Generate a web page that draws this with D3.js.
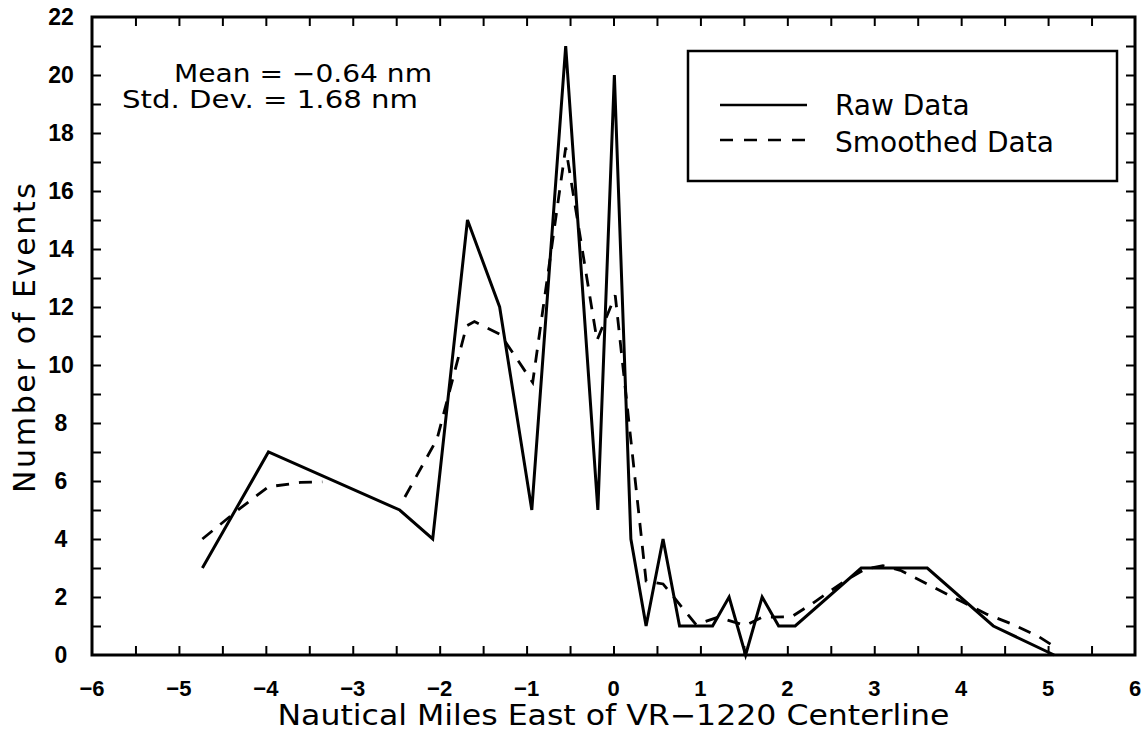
<!DOCTYPE html>
<html>
<head>
<meta charset="utf-8">
<script src="https://cdn.jsdelivr.net/npm/d3@7"></script>
<style>
  html, body { margin: 0; padding: 0; background: #fff; }
  svg { display: block; }
</style>
</head>
<body>
<svg id="chart" width="1147" height="732"></svg>
<script>
// ---- data ----
const rawX = [-4.73, -3.97, -2.46, -2.08, -1.68, -1.31, -0.94, -0.55, -0.18, 0.01, 0.2, 0.375, 0.57, 0.76, 1.14, 1.33, 1.52, 1.71, 1.9, 2.09, 2.85, 3.61, 4.37, 5.07];
const rawY = [3, 7, 5, 4, 15, 12, 5, 21, 5, 20, 4, 1, 4, 1, 1, 2, 0, 2, 1, 1, 3, 3, 1, 0];

// null marks a gap in the smoothed curve
const smoothX = [-4.73, -4.3, -3.97, -3.6, -3.35, null, -2.4, -2.03, -1.69, -1.6, -1.3, -0.93, -0.55, -0.19, 0.02, 0.375, 0.57, 0.95, 1.2, 1.52, 1.71, 2.05, 2.3, 2.66, 2.9, 3.1, 3.3, 3.61, 4.0, 4.3, 4.6, 4.9, 5.12];
const smoothY = [4.0, 5.05, 5.8, 5.95, 5.97, null, 5.45, 7.45, 11.35, 11.5, 11.05, 9.4, 17.5, 10.85, 12.4, 2.55, 2.45, 1.05, 1.3, 1.02, 1.3, 1.32, 1.8, 2.55, 2.97, 3.08, 2.92, 2.45, 1.85, 1.4, 1.05, 0.62, 0.2];

const xTickLabels = [-6, -5, -4, -3, -2, -1, 0, 1, 2, 3, 4, 5, 6];
const yTickLabels = [0, 2, 4, 6, 8, 10, 12, 14, 16, 18, 20, 22];
const xMinorTicks = d3.range(-5.5, 6, 0.5);
const yMinorTicks = d3.range(1, 22, 1);

const legendLabels = ["Raw Data", "Smoothed Data"];
const statLines = ["Mean = \u22120.64 nm", "Std. Dev. = 1.68 nm"];
const xTitle = "Nautical Miles East of VR\u22121220 Centerline";
const yTitle = "Number of Events";

// ---- layout ----
const svg = d3.select("#chart");
const L = 92, R = 1135, T = 17, B = 655;
const x = d3.scaleLinear().domain([-6, 6]).range([L, R]);
const y = d3.scaleLinear().domain([0, 22]).range([B, T]);

const tickFont = "'Liberation Sans', Arial, sans-serif";
const textFont = "'DejaVu Sans', sans-serif";

// ticks (inward) via d3 axes
const tickLen = 9;
const gBottom = svg.append("g").attr("transform", `translate(0,${B})`)
  .call(d3.axisTop(x).tickValues(xMinorTicks).tickSize(tickLen).tickFormat(""));
const gTop = svg.append("g").attr("transform", `translate(0,${T})`)
  .call(d3.axisBottom(x).tickValues(xMinorTicks).tickSize(tickLen).tickFormat(""));
const gLeft = svg.append("g").attr("transform", `translate(${L},0)`)
  .call(d3.axisRight(y).tickValues(yMinorTicks).tickSize(tickLen).tickFormat(""));
const gRight = svg.append("g").attr("transform", `translate(${R},0)`)
  .call(d3.axisLeft(y).tickValues(yMinorTicks).tickSize(tickLen).tickFormat(""));
[gBottom, gTop, gLeft, gRight].forEach(g => {
  g.select(".domain").remove();
  g.selectAll(".tick line").attr("stroke", "#000").attr("stroke-width", 2);
});

// frame
svg.append("rect")
  .attr("x", L).attr("y", T).attr("width", R - L).attr("height", B - T)
  .attr("fill", "none").attr("stroke", "#000").attr("stroke-width", 3);

// x tick labels
svg.append("g").selectAll("text").data(xTickLabels).join("text")
  .attr("x", d => x(d)).attr("y", 696)
  .attr("text-anchor", "middle")
  .attr("font-family", tickFont).attr("font-weight", "bold").attr("font-size", 22)
  .text(d => d < 0 ? "\u2212" + Math.abs(d) : String(d));

// y tick labels
svg.append("g").selectAll("text").data(yTickLabels).join("text")
  .attr("x", 61).attr("y", d => y(d))
  .attr("dy", "0.36em")
  .attr("text-anchor", "middle")
  .attr("font-family", tickFont).attr("font-weight", "bold").attr("font-size", 23)
  .text(d => String(d));

// axis titles
svg.append("text")
  .attr("x", x(0)).attr("y", 725)
  .attr("text-anchor", "middle")
  .attr("font-family", textFont).attr("font-size", 28)
  .attr("textLength", 672).attr("lengthAdjust", "spacingAndGlyphs")
  .text(xTitle);

svg.append("text")
  .attr("transform", `translate(35,${338}) rotate(-90)`)
  .attr("text-anchor", "middle")
  .attr("font-family", textFont).attr("font-size", 30)
  .attr("textLength", 310).attr("lengthAdjust", "spacing")
  .text(yTitle);

// lines
const rawData = rawX.map((d, i) => [d, rawY[i]]);
const smoothData = smoothX.map((d, i) => [d, smoothY[i]]);

const line = d3.line()
  .defined(d => d[0] !== null && d[1] !== null)
  .x(d => x(d[0])).y(d => y(d[1]));

svg.append("path").datum(smoothData)
  .attr("d", line).attr("fill", "none")
  .attr("stroke", "#000").attr("stroke-width", 2.8)
  .attr("stroke-dasharray", "13,10");

svg.append("path").datum(rawData)
  .attr("d", line).attr("fill", "none")
  .attr("stroke", "#000").attr("stroke-width", 3)
  .attr("stroke-linejoin", "miter");

// stats text
svg.append("text")
  .attr("x", 174).attr("y", 82)
  .attr("font-family", textFont).attr("font-size", 25)
  .attr("textLength", 258).attr("lengthAdjust", "spacingAndGlyphs")
  .text(statLines[0]);
svg.append("text")
  .attr("x", 122).attr("y", 108)
  .attr("font-family", textFont).attr("font-size", 25)
  .attr("textLength", 296).attr("lengthAdjust", "spacingAndGlyphs")
  .text(statLines[1]);

// legend
const lg = svg.append("g");
lg.append("rect")
  .attr("x", 688).attr("y", 51).attr("width", 1117 - 688).attr("height", 181 - 51)
  .attr("fill", "#fff").attr("stroke", "#000").attr("stroke-width", 2.5);
const legendRows = [
  { label: legendLabels[0], ly: 105, ty: 115, dash: null },
  { label: legendLabels[1], ly: 140, ty: 152, dash: "13,11" }
];
legendRows.forEach(r => {
  lg.append("line")
    .attr("x1", 720).attr("x2", 807).attr("y1", r.ly).attr("y2", r.ly)
    .attr("stroke", "#000").attr("stroke-width", 2.5)
    .attr("stroke-dasharray", r.dash);
  lg.append("text")
    .attr("x", 835).attr("y", r.ty)
    .attr("font-family", textFont).attr("font-size", 28)
    .text(r.label);
});
</script>
</body>
</html>
